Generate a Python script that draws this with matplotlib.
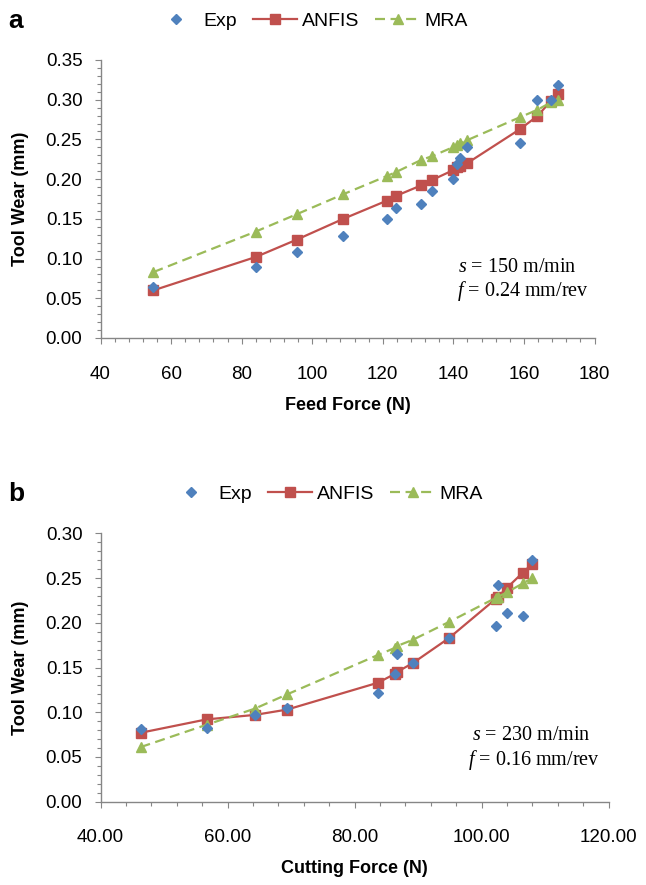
import matplotlib
matplotlib.use("Agg")
import matplotlib.pyplot as plt
from matplotlib.ticker import MultipleLocator, FormatStrFormatter

plt.rcParams["font.family"] = ["Liberation Sans", "DejaVu Sans"]
plt.rcParams["mathtext.fontset"] = "custom"
plt.rcParams["mathtext.it"] = "Liberation Serif:italic"
plt.rcParams["mathtext.rm"] = "Liberation Serif"

# (a) tool wear vs feed force, s = 150 m/min, f = 0.24 mm/rev
feed_force = [55.0, 84.0, 95.7, 108.8, 121.2, 123.8, 130.8, 134.0,
              139.8, 141.0, 142.0, 143.9, 158.9, 163.7, 167.8, 169.6]
wear_exp_a = [0.064, 0.090, 0.108, 0.129, 0.150, 0.164, 0.169, 0.185,
              0.200, 0.219, 0.226, 0.240, 0.245, 0.300, 0.300, 0.319]
wear_anfis_a = [0.060, 0.102, 0.124, 0.150, 0.173, 0.179, 0.192, 0.199,
                0.211, 0.215, 0.217, 0.220, 0.263, 0.279, 0.299, 0.307]
wear_mra_a = [0.083, 0.134, 0.156, 0.181, 0.204, 0.209, 0.224, 0.229,
              0.240, 0.243, 0.245, 0.249, 0.278, 0.287, 0.297, 0.300]

# (b) tool wear vs cutting force, s = 230 m/min, f = 0.16 mm/rev
cutting_force = [46.3, 56.7, 64.3, 69.4, 83.7, 86.4, 86.7, 89.2,
                 94.9, 102.3, 102.6, 104.0, 106.5, 108.0]
wear_exp_b = [0.081, 0.082, 0.097, 0.105, 0.122, 0.143, 0.165, 0.155,
              0.183, 0.196, 0.242, 0.211, 0.208, 0.270]
wear_anfis_b = [0.077, 0.092, 0.097, 0.103, 0.133, 0.143, 0.145, 0.155,
                0.183, 0.227, 0.229, 0.239, 0.256, 0.266]
wear_mra_b = [0.061, 0.086, 0.104, 0.120, 0.164, 0.172, 0.174, 0.181,
              0.201, 0.228, 0.229, 0.234, 0.244, 0.250]

C_EXP = "#4F81BD"
C_ANFIS = "#C0504D"
C_MRA = "#9BBB59"
GRAY = "#868686"
W, H = 646, 885


def px(x, y):
    # pixel position -> figure fraction
    return x / W, 1 - y / H


def draw_panel(ax, x, exp, anfis, mra, xlim, ylim, xstep, ystep, xfmt, xlabel):
    ax.plot(x, anfis, color=C_ANFIS, lw=1.6, marker="s", ms=7,
            zorder=2, label="ANFIS")
    ax.plot(x, mra, color=C_MRA, lw=1.6, ls=(0, (4.5, 2.5)), marker="^",
            ms=7.5, zorder=3, label="MRA")
    ax.plot(x, exp, ls="none", marker="D", ms=5, color=C_EXP,
            zorder=4, label="Exp")

    ax.set_xlim(*xlim)
    ax.set_ylim(*ylim)
    ax.xaxis.set_major_locator(MultipleLocator(xstep))
    ax.xaxis.set_minor_locator(MultipleLocator(xstep / 5))
    ax.yaxis.set_major_locator(MultipleLocator(ystep))
    ax.yaxis.set_minor_locator(MultipleLocator(ystep / 5))
    ax.xaxis.set_major_formatter(FormatStrFormatter(xfmt))
    ax.yaxis.set_major_formatter(FormatStrFormatter("%.2f"))

    for s in ["top", "right"]:
        ax.spines[s].set_visible(False)
    for s in ["left", "bottom"]:
        ax.spines[s].set_color(GRAY)
        ax.spines[s].set_linewidth(1.0)
    ax.tick_params(which="both", direction="out", color=GRAY, width=0.8,
                   labelsize=13.5)
    ax.tick_params(which="major", length=4)
    ax.tick_params(which="minor", length=3)
    ax.tick_params(axis="x", which="major", pad=16)
    ax.tick_params(axis="y", which="major", pad=9)

    ax.set_xlabel(xlabel, fontsize=13, fontweight="bold", labelpad=10)
    ax.set_ylabel("Tool Wear (mm)", fontsize=13, fontweight="bold", labelpad=12)


def add_legend(fig, ax, center):
    h, l = ax.get_legend_handles_labels()
    order = [2, 0, 1]
    fig.legend([h[i] for i in order], [l[i] for i in order], loc="center",
               bbox_to_anchor=center, ncol=3, frameon=False, fontsize=14,
               handlelength=2.3, handletextpad=0.25, columnspacing=0.8,
               borderaxespad=0)


def main():
    fig = plt.figure(figsize=(W / 100, H / 100), dpi=100)

    ax_a = fig.add_axes([100.5 / W, 1 - 338 / H, 494 / W, 278 / H])
    draw_panel(ax_a, feed_force, wear_exp_a, wear_anfis_a, wear_mra_a,
               (40, 180), (0, 0.35), 20, 0.05, "%d", "Feed Force (N)")
    add_legend(fig, ax_a, px(311, 21))
    fig.text(*px(8, 21), "a", fontsize=19, fontweight="bold", va="center")
    fig.text(*px(458, 271.5), r"$s$ = 150 m/min", fontsize=14.5,
             family="Liberation Serif", va="baseline")
    fig.text(*px(456.5, 296), r"$f$ = 0.24 mm/rev", fontsize=14.5,
             family="Liberation Serif", va="baseline")

    ax_b = fig.add_axes([100.5 / W, 1 - 801.7 / H, 508 / W, 268.4 / H])
    draw_panel(ax_b, cutting_force, wear_exp_b, wear_anfis_b, wear_mra_b,
               (40, 120), (0, 0.30), 20, 0.05, "%.2f", "Cutting Force (N)")
    add_legend(fig, ax_b, px(326, 494))
    fig.text(*px(8, 494), "b", fontsize=19, fontweight="bold", va="center")
    fig.text(*px(471.5, 740), r"$s$ = 230 m/min", fontsize=14.5,
             family="Liberation Serif", va="baseline")
    fig.text(*px(468, 765), r"$f$ = 0.16 mm/rev", fontsize=14.5,
             family="Liberation Serif", va="baseline")

    fig.savefig("out.png", dpi=100)
    plt.close(fig)


if __name__ == "__main__":
    main()
